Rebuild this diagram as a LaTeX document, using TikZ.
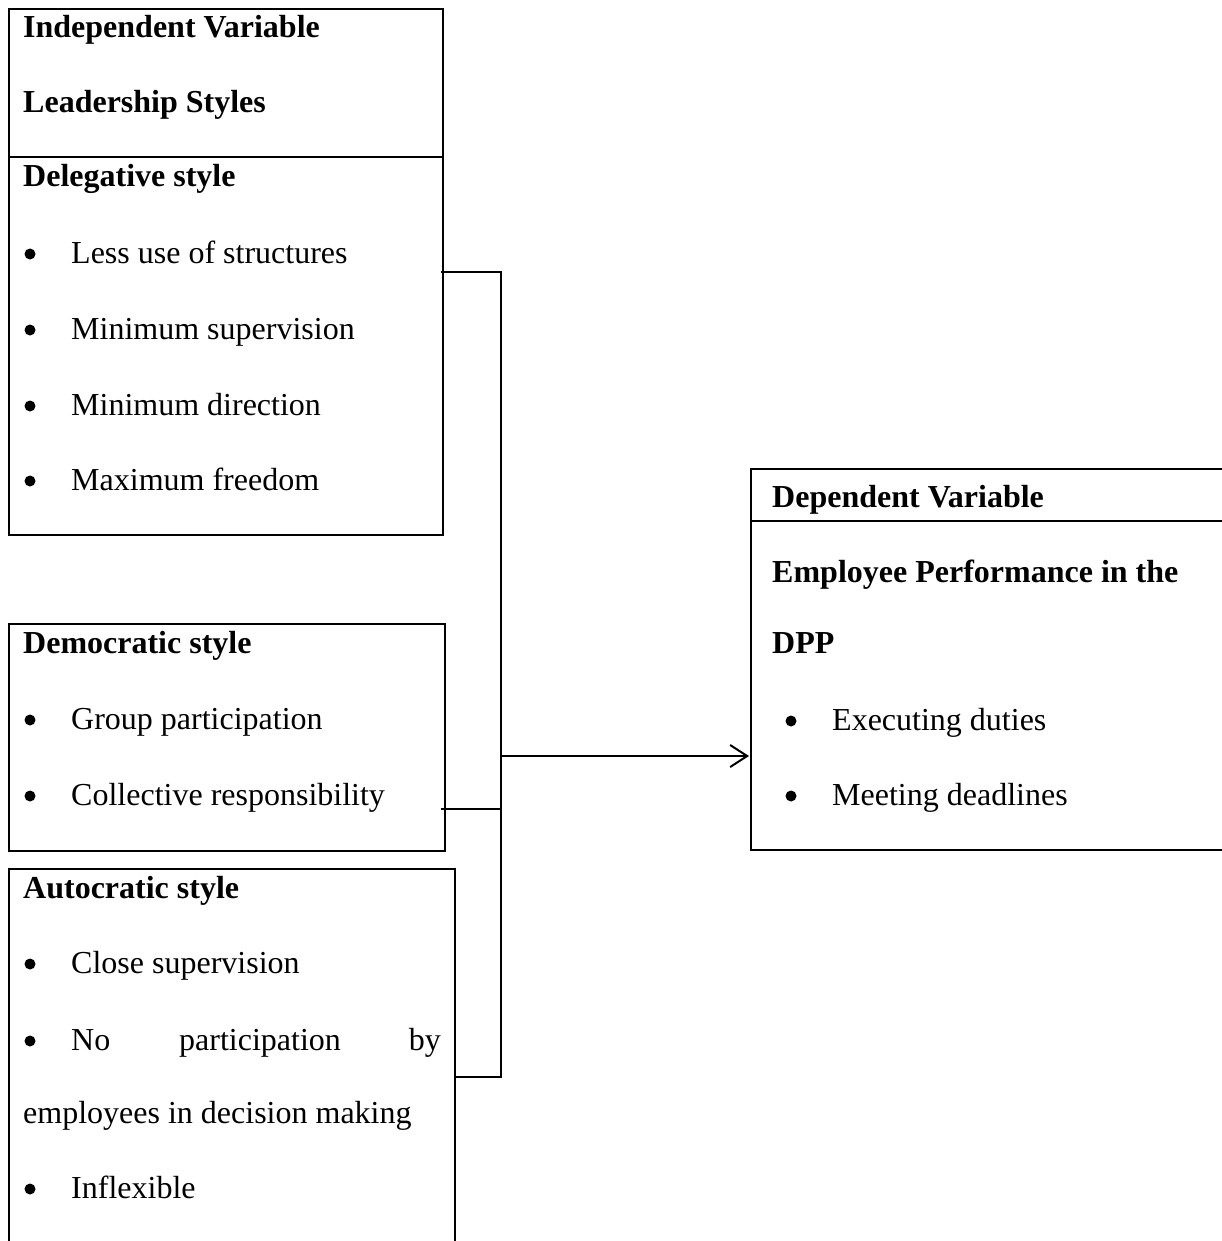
\documentclass[tikz,border=0pt]{standalone}
\usepackage{fontspec}
\setmainfont{Liberation Serif}
\usetikzlibrary{arrows.meta}
\begin{document}
\begin{tikzpicture}[x=1pt,y=-1pt,
  txt/.style={anchor=base west, inner sep=0pt, font=\fontsize{32}{38}\selectfont},
  hd/.style={anchor=base west, inner sep=0pt, font=\fontsize{32}{38}\selectfont\bfseries},
  bul/.style={circle, fill=black, inner sep=0pt, minimum size=11pt},
  boxline/.style={line width=2pt, line join=miter},
  dline/.style={line width=1.5pt, line join=miter},
  conn/.style={line width=2pt}]
\useasboundingbox[fill=white] (0,0) rectangle (1221,1241);

% ---- Box 1: Independent variable / Delegative
\draw[boxline] (9,9) rectangle (443,535);
\draw[boxline] (9,157) -- (443,157);
\node[hd] (iv) at (23,38) {Independent Variable};
\node[hd] (ls) at (23,113) {Leadership Styles};
\node[hd] (del) at (23,187) {Delegative style};
\node[bul] (b11) at (30,254) {}; \node[txt] (t11) at (71,263) {Less use of structures};
\node[bul] (b12) at (30,330) {}; \node[txt] (t12) at (71,339) {Minimum supervision};
\node[bul] (b13) at (30,406) {}; \node[txt] (t13) at (71,415) {Minimum direction};
\node[bul] (b14) at (30,481) {}; \node[txt] (t14) at (71,490) {Maximum freedom};

% ---- Box 2: Democratic
\draw[boxline] (9,624) rectangle (445,851);
\node[hd] (dem) at (23,653) {Democratic style};
\node[bul] (b21) at (30,720) {}; \node[txt] (t21) at (71,729) {Group participation};
\node[bul] (b22) at (30,796) {}; \node[txt] (t22) at (71,805) {Collective responsibility};

% ---- Box 3: Autocratic (open at the bottom)
\draw[boxline] (9,1260) -- (9,869) -- (455,869) -- (455,1260);
\node[hd] (aut) at (23,898) {Autocratic style};
\node[bul] (b31) at (30,964) {}; \node[txt] (t31) at (71,973) {Close supervision};
\node[bul] (b32) at (30,1041) {};
\node[txt] (t32a) at (71,1050) {No};
\node[txt] (t32b) at (179,1050) {participation};
\node[txt,anchor=base east] (t32c) at (441,1050) {by};
\node[txt] (t32d) at (23,1123) {employees in decision making};
\node[bul] (b33) at (30,1189) {}; \node[txt] (t33) at (71,1198) {Inflexible};

% ---- Dependent box (open at the right)
\draw[dline] (1240,469) -- (751,469) -- (751,850) -- (1240,850);
\draw[dline] (751,521) -- (1240,521);
\node[hd] (dv) at (772,507) {Dependent Variable};
\node[hd] (ep) at (772,582) {Employee Performance in the};
\node[hd] (dpp) at (772,653) {DPP};
\node[bul] (b41) at (791,721) {}; \node[txt] (t41) at (832,730) {Executing duties};
\node[bul] (b42) at (791,796) {}; \node[txt] (t42) at (832,805) {Meeting deadlines};

% ---- Connectors
\coordinate (c1) at (441,272);
\coordinate (j1) at (501,272);
\coordinate (c2) at (441,809);
\coordinate (j2) at (501,809);
\coordinate (c3) at (455,1077);
\coordinate (j3) at (501,1077);
\coordinate (ja) at (501,756);
\coordinate (din) at (749,756);
\draw[conn] (c1) -- (j1) -- (j3) -- (c3);
\draw[conn] (c2) -- (j2);
\draw[conn,-{Straight Barb[length=17pt,width=22pt,line width=2pt]}] (ja) -- (din);
\end{tikzpicture}
\end{document}
